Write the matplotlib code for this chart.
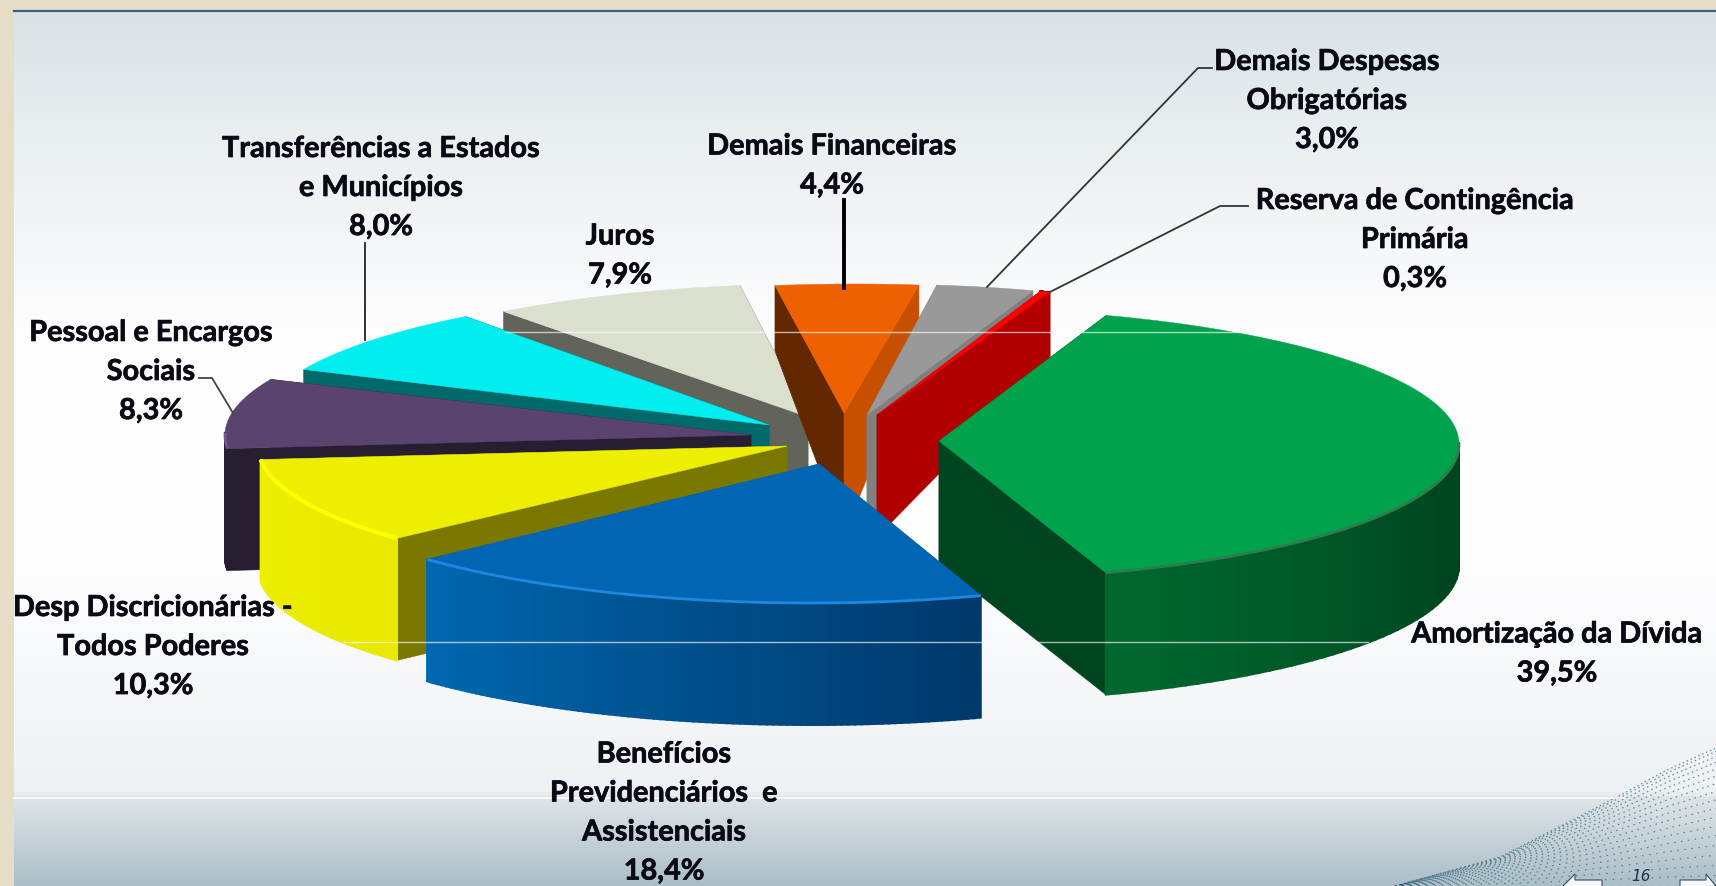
import numpy as np
import matplotlib
matplotlib.use("Agg")
import matplotlib.pyplot as plt
import matplotlib.patheffects as pe
from matplotlib.colors import to_rgb, LinearSegmentedColormap

# ---- data ----
categories = ["Amortização da Dívida", "Benefícios\nPrevidenciários  e\nAssistenciais",
              "Desp Discricionárias -\nTodos Poderes", "Pessoal e Encargos\nSociais",
              "Transferências a Estados\ne Municípios", "Juros", "Demais Financeiras",
              "Demais Despesas\nObrigatórias", "Reserva de Contingência\nPrimária"]
values = [39.5, 18.4, 10.3, 8.3, 8.0, 7.9, 4.4, 3.0, 0.3]

# ---- style ----
top_colors = ["#00A24C", "#0066B3", "#EEEE00", "#5B4370", "#00EEF0", "#DADFCE", "#EE6000", "#999999", "#FF0000"]
start_faces = ["#00451F", "#0066B3", "#7B7800", "#281E32", "#006A6A", "#62635A", "#642800", "#808080", "#B00000"]
end_faces = ["#00451F", "#0066B3", "#7B7800", "#281E32", "#006A6A", "#62635A", "#C75000", "#808080", "#B00000"]
wall_from = ["#00682F", "#0068B0", "#EEEE00", "#281E32", "#006A6A", "#62635A", "#642800", "#808080", "#B00000"]
wall_to = ["#00451F", "#00386A", "#E8E800", "#281E32", "#006A6A", "#62635A", "#C75000", "#808080", "#B00000"]
rim_colors = ["#2E7D4F", "#1E88E0", "#FFFF00", "#6E5A86", None, None, None, None, None]
rim_widths = [2.0, 2.0, 3.0, 2.0, 0, 0, 0, 0, 0]
origins = [(939, 441), (819, 464), (787, 446), (751, 435), (769, 425), (808, 417), (844, 413), (867, 415), (877, 415)]
arc_offsets = [(-3, 3), (-8, 3), (-6, 0), (-3, 0), (12, 0), (11, 3), (10, 7), (5, 5), (2, 6)]
draw_order = [5, 6, 7, 8, 4, 3, 2, 0, 1]
RX, RY = 523, 136
START_DEG = -71.0

label_pos = [(1557, 654), (664, 813), (153, 647), (151, 372), (381, 188), (620, 256), (832, 166), (1327, 101), (1415, 240)]
leaders = [([365, 365], [243, 340], 1.3, "#222222"), ([844, 844], [200, 288], 2.8, "#000000"),
           ([1212, 1198, 987], [68, 68, 287], 1.3, "#333333"),
           ([1248, 1220, 1050], [206, 206, 292], 1.3, "#333333"),
           ([199, 212, 233], [378, 378, 413], 1.3, "#444444")]

fig = plt.figure(figsize=(17.16, 8.86), dpi=100)
ax = fig.add_axes([0, 0, 1, 1])
ax.set_xlim(0, 1716)
ax.set_ylim(886, 0)
ax.axis("off")

# ---- slide background ----
bg = LinearSegmentedColormap.from_list("bg", [
    (0.0, "#D8E1E5"), (0.15, "#E9EEF0"), (0.37, "#FDFDFE"), (0.6, "#FFFFFF"), (0.72, "#F9FAFC"),
    (0.897, "#EEF1F3"), (0.9, "#DEE5E8"), (1.0, "#ACBEC7")])
ax.imshow(np.linspace(0, 1, 886)[:, None], extent=(0, 1716, 886, 0), cmap=bg, vmin=0, vmax=1, aspect="auto", zorder=0)
ax.fill_between([0, 1716], 0, 10, color="#E5DDC6", lw=0, zorder=1)
ax.fill_between([0, 14], 0, 886, color="#E5DDC6", lw=0, zorder=1)
ax.plot([14, 1716], [10.5, 10.5], color="#3D5F8A", lw=1.6, zorder=1)

# ---- decorative mesh ----
mx = np.array([1395, 1500, 1567, 1617, 1667, 1716], float)
my = np.array([886, 857, 823, 797, 770, 748], float)
xs = np.linspace(1395, 1716, 200)
top = np.interp(xs, mx, my)
for k in range(0, 18):
    f = k / 17
    yy = top + (886 - top) * f ** 1.3
    ax.plot(xs, yy, color="#2F6078", lw=0.9, alpha=0.7, ls=(0, (1.2, 2.2 + 3 * f)), zorder=1)


# ---- pie, projected from the values ----
def rim(o, off, t):
    return o[0] + off[0] + RX * np.cos(t), o[1] + off[1] + RY * np.sin(t)


def depth(y):
    return np.interp(y, [285, 400], [65, 122])


def hang(x, y):
    x = np.asarray(x, float)
    y = np.asarray(y, float)
    return x, y + depth(y)


edges = START_DEG + np.r_[0, np.cumsum(values)] / np.sum(values) * 360
for z, i in enumerate(draw_order):
    base = 10 + z
    o, off = origins[i], arc_offsets[i]
    t1, t2 = np.radians(edges[i]), np.radians(edges[i + 1])
    # cut faces
    for t, col in ((t1, start_faces[i]), (t2, end_faces[i])):
        ex, ey = rim(o, off, t)
        bx, by = hang([o[0], ex], [o[1], ey])
        ax.fill([o[0], ex, bx[1], bx[0]], [o[1], ey, by[1], by[0]], color=col, lw=0.4, zorder=base)
    # outer wall, only its front part
    ts = np.linspace(t1, t2, 90)
    c0, c1 = np.array(to_rgb(wall_from[i])), np.array(to_rgb(wall_to[i]))
    span = (t2 - t1) * (0.4 if i == 0 else 1)
    for a, b in zip(ts[:-1], ts[1:]):
        xa, ya = rim(o, off, a)
        xb, yb = rim(o, off, b)
        bx, by = hang([xa, xb], [ya, yb])
        f = min(1.0, abs(t2 - b) / span)
        col = c0 + (c1 - c0) * f
        if np.sin(a) > -0.02 or i == 8:
            ax.fill([xa, xb, bx[1], bx[0]], [ya, yb, by[1], by[0]], color=col, lw=1.4, zorder=base)
    # top
    tt = np.linspace(t1, t2, 160)
    rx, ry = rim(o, off, tt)
    ax.fill(np.r_[o[0], rx], np.r_[o[1], ry], color=top_colors[i], lw=0.3, zorder=base)
    if rim_colors[i]:
        keep = np.sin(tt) > -0.02
        ax.plot(rx[keep], ry[keep], color=rim_colors[i], lw=rim_widths[i], zorder=base, solid_capstyle="butt")

# ---- glow lines of the template ----
ax.plot([505, 1240], [332, 332], color="white", lw=1, alpha=0.65, zorder=30)
ax.plot([344, 1368], [642, 642], color="white", lw=1, alpha=0.65, zorder=30)
ax.plot([14, 1625], [798, 798], color="white", lw=1.3, alpha=0.8, zorder=30)

# ---- leaders and labels ----
for lx, ly, lw, col in leaders:
    ax.plot(lx, ly, color=col, lw=lw, zorder=31)
for name, val, (x, y) in zip(categories, values, label_pos):
    pct = f"{val:.1f}%".replace(".", ",")
    ax.text(x, y, f"{name}\n{pct}", ha="center", va="center", ma="center", family="Lato", weight="bold",
            fontsize=20.8, color="#0A0A14", linespacing=1.62, zorder=32,
            path_effects=[pe.withStroke(linewidth=0.5, foreground="#0A0A14")])

# ---- page navigation ----
ax.fill([1563, 1575, 1575, 1602, 1602, 1575, 1575], [886, 874, 880, 880, 892, 892, 900], color="#F4F6F8", ec="#34506A", lw=0.8, zorder=33)
ax.fill([1716, 1706, 1706, 1680, 1680], [886, 874, 880, 880, 892], color="#F4F6F8", ec="#34506A", lw=0.8, zorder=33)
ax.text(1641, 884, "16", ha="center", va="bottom", fontsize=11, style="italic", color="#1F3347", family="DejaVu Sans", zorder=33)

fig.savefig("out.png", dpi=100)
